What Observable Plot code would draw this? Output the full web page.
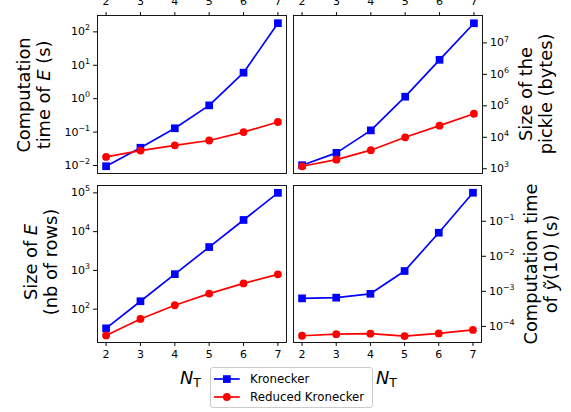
<!DOCTYPE html>
<html>
<head>
<meta charset="utf-8">
<script src="https://cdn.jsdelivr.net/npm/d3@7"></script>
<script src="https://cdn.jsdelivr.net/npm/@observablehq/plot@0.6"></script>
<style>
  html, body { margin: 0; padding: 0; background: #fff; }
  #fig { position: relative; width: 571px; height: 412px; overflow: hidden; background: #fff; font-family: "DejaVu Sans", sans-serif; }
  .panel { position: absolute; }
  .panel svg { overflow: visible; display: block; }
  .ylab { position: absolute; transform: translate(-50%, -50%) rotate(-90deg); white-space: nowrap; text-align: center; font-size: 17.8px; line-height: 20px; color: #000; }
  .xlab { position: absolute; font-size: 17.8px; line-height: 1; color: #000; white-space: nowrap; }
  .xlab sub { font-size: 0.7em; vertical-align: -0.25em; font-style: normal; }
  #legend { position: absolute; left: 210px; top: 367px; width: 161px; height: 39px; border: 1px solid #cccccc; border-radius: 3px; background: #fff; font-size: 11.8px; color: #000; }
  #legend .row { position: absolute; left: 0; height: 18px; line-height: 18px; white-space: nowrap; }
  #legend svg { position: absolute; left: 2px; top: 0; }
  #legend span { position: absolute; left: 39px; top: 0; }
</style>
</head>
<body>
<div id="fig"></div>
<script>
// ---- data ----
const nT = [2, 3, 4, 5, 6, 7];
const seriesNames = ["Kronecker", "Reduced Kronecker"];
const seriesColors = ["#0000ff", "#ff0000"];
const seriesSymbols = ["square", "circle"];

const timeE_kron = [0.0095, 0.034, 0.13, 0.63, 6.0, 182];
const timeE_red = [0.018, 0.028, 0.040, 0.056, 0.10, 0.20];

const pickle_kron = [1300, 3200, 16600, 195000, 2.9e6, 4.2e7];
const pickle_red = [1200, 1950, 3900, 10000, 23500, 56000];

const rows_kron = [32, 160, 800, 4000, 20000, 100000];
const rows_red = [21, 56, 126, 252, 462, 792];

const timeY_kron = [6.3e-4, 6.6e-4, 8.5e-4, 3.8e-3, 0.047, 0.65];
const timeY_red = [5.4e-5, 6.0e-5, 6.2e-5, 5.3e-5, 6.3e-5, 7.9e-5];

const ticks_timeE = [1e-2, 1e-1, 1e0, 1e1, 1e2];
const ticks_pickle = [1e3, 1e4, 1e5, 1e6, 1e7];
const ticks_rows = [1e2, 1e3, 1e4, 1e5];
const ticks_timeY = [1e-4, 1e-3, 1e-2, 1e-1];

// ---- helpers ----
const SVGNS = "http://www.w3.org/2000/svg";
function powFmt(v) {
  return "10^" + Math.round(Math.log10(v));
}
function superscriptTicks(svg) {
  svg.querySelectorAll("text").forEach(t => {
    const m = t.textContent.match(/^10\^(-?\d+)$/);
    if (!m) return;
    t.textContent = "10";
    const ts = document.createElementNS(SVGNS, "tspan");
    ts.setAttribute("dy", "-0.62em");
    ts.setAttribute("font-size", "0.72em");
    ts.textContent = m[1].replace("-", "\u2212");
    t.appendChild(ts);
  });
}
function rowsOf(kron, red) {
  const out = [];
  nT.forEach((n, i) => out.push({n, v: kron[i], s: seriesNames[0]}));
  nT.forEach((n, i) => out.push({n, v: red[i], s: seriesNames[1]}));
  return out;
}

const fig = document.getElementById("fig");

function panel({left, top, width, height, mL, mR, mT, mB, yDomain, yTicks, yAnchor, xAnchor, data}) {
  const marks = [
    Plot.frame({stroke: "#000", strokeWidth: 0.9}),
    Plot.axisX({anchor: xAnchor, ticks: nT, tickSize: 3.9, tickPadding: xAnchor === "top" ? 6.5 : 3.5, label: null, tickFormat: d => String(d)}),
    Plot.axisY({anchor: yAnchor, ticks: yTicks, tickSize: 3.9, tickPadding: 3.5, label: null, tickFormat: powFmt}),
  ];
  seriesNames.forEach((name, k) => {
    const d = data.filter(r => r.s === name);
    marks.push(Plot.line(d, {x: "n", y: "v", stroke: seriesColors[k], strokeWidth: 1.7}));
    marks.push(Plot.dot(d, {x: "n", y: "v", symbol: seriesSymbols[k], fill: seriesColors[k], stroke: "none", r: k === 0 ? 4.35 : 3.9}));
  });
  const p = Plot.plot({
    width, height,
    marginLeft: mL, marginRight: mR, marginTop: mT, marginBottom: mB,
    style: {fontFamily: "DejaVu Sans", fontSize: "11px", color: "#000", background: "transparent", overflow: "visible"},
    x: {domain: [1.75, 7.25], axis: null},
    y: {type: "log", domain: yDomain, axis: null},
    marks
  });
  superscriptTicks(p);
  const div = document.createElement("div");
  div.className = "panel";
  div.style.left = left + "px";
  div.style.top = top + "px";
  div.appendChild(p);
  fig.appendChild(div);
}

panel({left: 0, top: 0, width: 290, height: 180, mL: 97, mR: 4, mT: 15, mB: 7,
  yDomain: [Math.pow(10, -2.24), Math.pow(10, 2.49)], yTicks: ticks_timeE, yAnchor: "left", xAnchor: "top",
  data: rowsOf(timeE_kron, timeE_red)});
panel({left: 290, top: 0, width: 281, height: 180, mL: 3, mR: 89, mT: 15, mB: 7,
  yDomain: [Math.pow(10, 2.85), Math.pow(10, 7.87)], yTicks: ticks_pickle, yAnchor: "right", xAnchor: "top",
  data: rowsOf(pickle_kron, pickle_red)});
panel({left: 0, top: 180, width: 290, height: 232, mL: 97, mR: 4, mT: 5, mB: 70,
  yDomain: [Math.pow(10, 1.14), Math.pow(10, 5.19)], yTicks: ticks_rows, yAnchor: "left", xAnchor: "bottom",
  data: rowsOf(rows_kron, rows_red)});
panel({left: 290, top: 180, width: 281, height: 232, mL: 3, mR: 90, mT: 5, mB: 70,
  yDomain: [Math.pow(10, -4.46), Math.pow(10, 0.02)], yTicks: ticks_timeY, yAnchor: "right", xAnchor: "bottom",
  data: rowsOf(timeY_kron, timeY_red)});

// ---- axis labels ----
function addHTML(cls, html, css) {
  const d = document.createElement("div");
  d.className = cls;
  d.innerHTML = html;
  Object.assign(d.style, css);
  fig.appendChild(d);
}
addHTML("ylab", "Computation<br>time of <i>E</i> (s)", {left: "34px", top: "95px"});
addHTML("ylab", "Size of the<br>pickle (bytes)", {left: "536px", top: "94px"});
addHTML("ylab", "Size of <i>E</i><br>(nb of rows)", {left: "41px", top: "262px"});
addHTML("ylab", "Computation time<br>of <i>\u1EF9</i>(10) (s)", {left: "541px", top: "264px"});
addHTML("xlab", "<i>N</i><sub>T</sub>", {left: "180px", top: "369px"});
addHTML("xlab", "<i>N</i><sub>T</sub>", {left: "376px", top: "369px"});

// ---- legend ----
const leg = document.createElement("div");
leg.id = "legend";
seriesNames.forEach((name, k) => {
  const row = document.createElement("div");
  row.className = "row";
  row.style.top = (2 + k * 18) + "px";
  const sym = k === 0
    ? `<rect x="10" y="5.2" width="7.7" height="7.7" fill="${seriesColors[k]}"/>`
    : `<circle cx="13.85" cy="9" r="3.9" fill="${seriesColors[k]}"/>`;
  row.innerHTML = `<svg width="30" height="18"><line x1="1" x2="26.7" y1="9" y2="9" stroke="${seriesColors[k]}" stroke-width="1.7"/>${sym}</svg><span>${name}</span>`;
  leg.appendChild(row);
});
fig.appendChild(leg);
</script>
</body>
</html>
